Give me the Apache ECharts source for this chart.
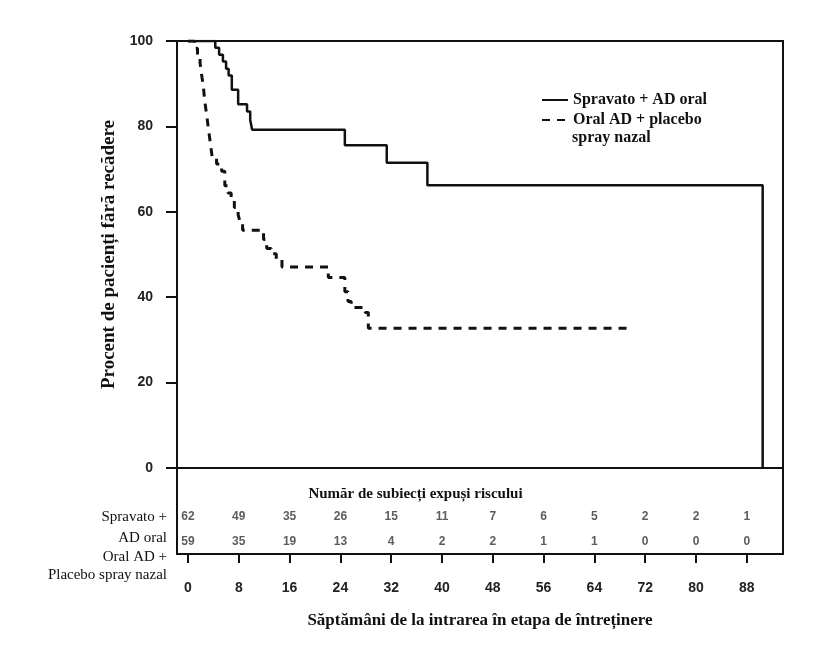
<!DOCTYPE html>
<html>
<head>
<meta charset="utf-8">
<script src="https://cdn.jsdelivr.net/npm/echarts@6/dist/echarts.min.js"></script>
<style>
  html, body { margin: 0; padding: 0; background: #fff; }
  #chart { width: 831px; height: 667px; }
</style>
</head>
<body>
<div id="chart"></div>
<script>
// week ticks shown under the risk table
var weekTicks = [0, 8, 16, 24, 32, 40, 48, 56, 64, 72, 80, 88]

// subjects at risk per tick
var atRiskSpravato = [62, 49, 35, 26, 15, 11, 7, 6, 5, 2, 2, 1]
var atRiskPlacebo = [59, 35, 19, 13, 4, 2, 2, 1, 1, 0, 0, 0]

// Kaplan-Meier steps (week of event, % relapse-free after it)
var spravatoWeeks = [0, 4.3, 4.9, 5.5, 6.0, 6.4, 6.9, 7.9, 9.3, 9.8, 10.1, 24.7, 31.3, 37.7, 90.5]
var spravatoPct = [100, 98.4, 96.8, 95.2, 93.5, 91.9, 88.6, 85.2, 83.5, 81.5, 79.2, 75.6, 71.5, 66.2, 0]

var placeboWeeks = [0, 1.0, 1.5, 1.9, 2.2, 2.4, 2.6, 2.9, 3.2, 3.5, 3.8, 4.5, 5.3, 5.8, 6.3, 6.8, 7.3, 7.9, 8.2, 8.6, 11.9, 12.4, 13.1, 13.9, 14.8, 22.1, 24.7, 25.2, 25.7, 27.9, 28.4, 69.9]
var placeboPct = [100, 98.3, 96.6, 94.9, 91.5, 89.8, 86.4, 83.1, 79.7, 76.3, 72.9, 71.2, 69.5, 66.1, 64.4, 62.7, 61.0, 59.3, 57.6, 55.7, 53.5, 51.4, 50.2, 48.9, 47.1, 44.6, 41.3, 39.0, 37.6, 36.4, 32.7, 32.7]

var serif = 'Liberation Serif'
var sans = 'Liberation Sans'

function pairs(xs, ys) {
    return xs.map(function (x, i) { return [x, ys[i]] })
}

var xMin = -1.73
var xMax = 93.7

var chart = echarts.init(document.getElementById('chart'))

var option = {
    animation: false,
    backgroundColor: '#fff',
    grid: [
        { left: 177, top: 41, width: 606, height: 427, show: true, borderColor: '#111', borderWidth: 2 },
        { left: 177, top: 468, width: 606, height: 86, show: true, borderColor: '#111', borderWidth: 2 }
    ],
    xAxis: [
        { gridIndex: 0, type: 'value', min: xMin, max: xMax, show: false },
        {
            gridIndex: 1, type: 'value', min: xMin, max: xMax, position: 'bottom',
            axisLine: { show: true, onZero: false, lineStyle: { color: '#111', width: 2 } },
            axisTick: { show: true, inside: false, length: 9, customValues: weekTicks, lineStyle: { color: '#111', width: 2 } },
            axisLabel: { customValues: weekTicks, margin: 27, color: '#222', fontFamily: sans, fontWeight: 'bold', fontSize: 14 },
            splitLine: { show: false },
            name: 'Săptămâni de la intrarea în etapa de întreținere',
            nameLocation: 'middle', nameGap: 58,
            nameTextStyle: { color: '#111', fontFamily: serif, fontWeight: 'bold', fontSize: 17 }
        }
    ],
    yAxis: [
        {
            gridIndex: 0, type: 'value', min: 0, max: 100, interval: 20,
            axisLine: { show: true, onZero: false, lineStyle: { color: '#111', width: 2 } },
            axisTick: { show: true, inside: false, length: 11, lineStyle: { color: '#111', width: 2 } },
            axisLabel: { margin: 24, color: '#222', fontFamily: sans, fontWeight: 'bold', fontSize: 14 },
            splitLine: { show: false },
            name: 'Procent de pacienți fără recădere',
            nameLocation: 'middle', nameGap: 58, nameRotate: 90,
            nameTextStyle: { color: '#111', fontFamily: serif, fontWeight: 'bold', fontSize: 19 }
        },
        { gridIndex: 1, type: 'value', min: 0, max: 86, inverse: true, show: false }
    ],
    legend: {
        left: 536, top: 87, orient: 'vertical', itemGap: 4,
        itemWidth: 26, itemHeight: 10,
        itemStyle: { opacity: 0 },
        textStyle: { color: '#111', fontFamily: serif, fontWeight: 'bold', fontSize: 16 },
        formatter: function (name) { return name.replace(' spray nazal', '') },
        data: ['Spravato + AD oral', 'Oral AD + placebo spray nazal']
    },
    graphic: [
        { type: 'text', left: 572, top: 130, style: { text: 'spray nazal', fill: '#111', font: 'bold 16px "Liberation Serif"' } },
        { type: 'text', left: 'center', top: 487, x: 3, style: { text: 'Număr de subiecți expuși riscului', fill: '#111', font: 'bold 15px "Liberation Serif"' } },
        { type: 'text', right: 831 - 167, top: 510, style: { text: 'Spravato +', fill: '#111', font: '15px "Liberation Serif"', align: 'right' } },
        { type: 'text', right: 831 - 167, top: 531, style: { text: 'AD oral', fill: '#111', font: '15px "Liberation Serif"', align: 'right' } },
        { type: 'text', right: 831 - 167, top: 550, style: { text: 'Oral AD +', fill: '#111', font: '15px "Liberation Serif"', align: 'right' } },
        { type: 'text', right: 831 - 167, top: 568, style: { text: 'Placebo spray nazal', fill: '#111', font: '15px "Liberation Serif"', align: 'right' } }
    ],
    series: [
        {
            name: 'Spravato + AD oral', type: 'line', xAxisIndex: 0, yAxisIndex: 0,
            step: 'end', symbol: 'none',
            lineStyle: { color: '#111', width: 2.5 },
            itemStyle: { color: '#111' },
            data: pairs(spravatoWeeks, spravatoPct)
        },
        {
            name: 'Oral AD + placebo spray nazal', type: 'line', xAxisIndex: 0, yAxisIndex: 0,
            step: 'end', symbol: 'none',
            lineStyle: { color: '#111', width: 3, type: [8, 7] },
            itemStyle: { color: '#111' },
            data: pairs(placeboWeeks, placeboPct)
        },
        {
            type: 'scatter', xAxisIndex: 1, yAxisIndex: 1, symbolSize: 0, silent: true,
            label: { show: true, position: 'inside', formatter: function (p) { return p.value[2] }, color: '#333', fontFamily: sans, fontWeight: 'bold', fontSize: 12 },
            data: weekTicks.map(function (w, i) { return [w, 49, atRiskSpravato[i]] })
        },
        {
            type: 'scatter', xAxisIndex: 1, yAxisIndex: 1, symbolSize: 0, silent: true,
            label: { show: true, position: 'inside', formatter: function (p) { return p.value[2] }, color: '#333', fontFamily: sans, fontWeight: 'bold', fontSize: 12 },
            data: weekTicks.map(function (w, i) { return [w, 74, atRiskPlacebo[i]] })
        }
    ]
}

chart.setOption(option)
</script>
</body>
</html>
